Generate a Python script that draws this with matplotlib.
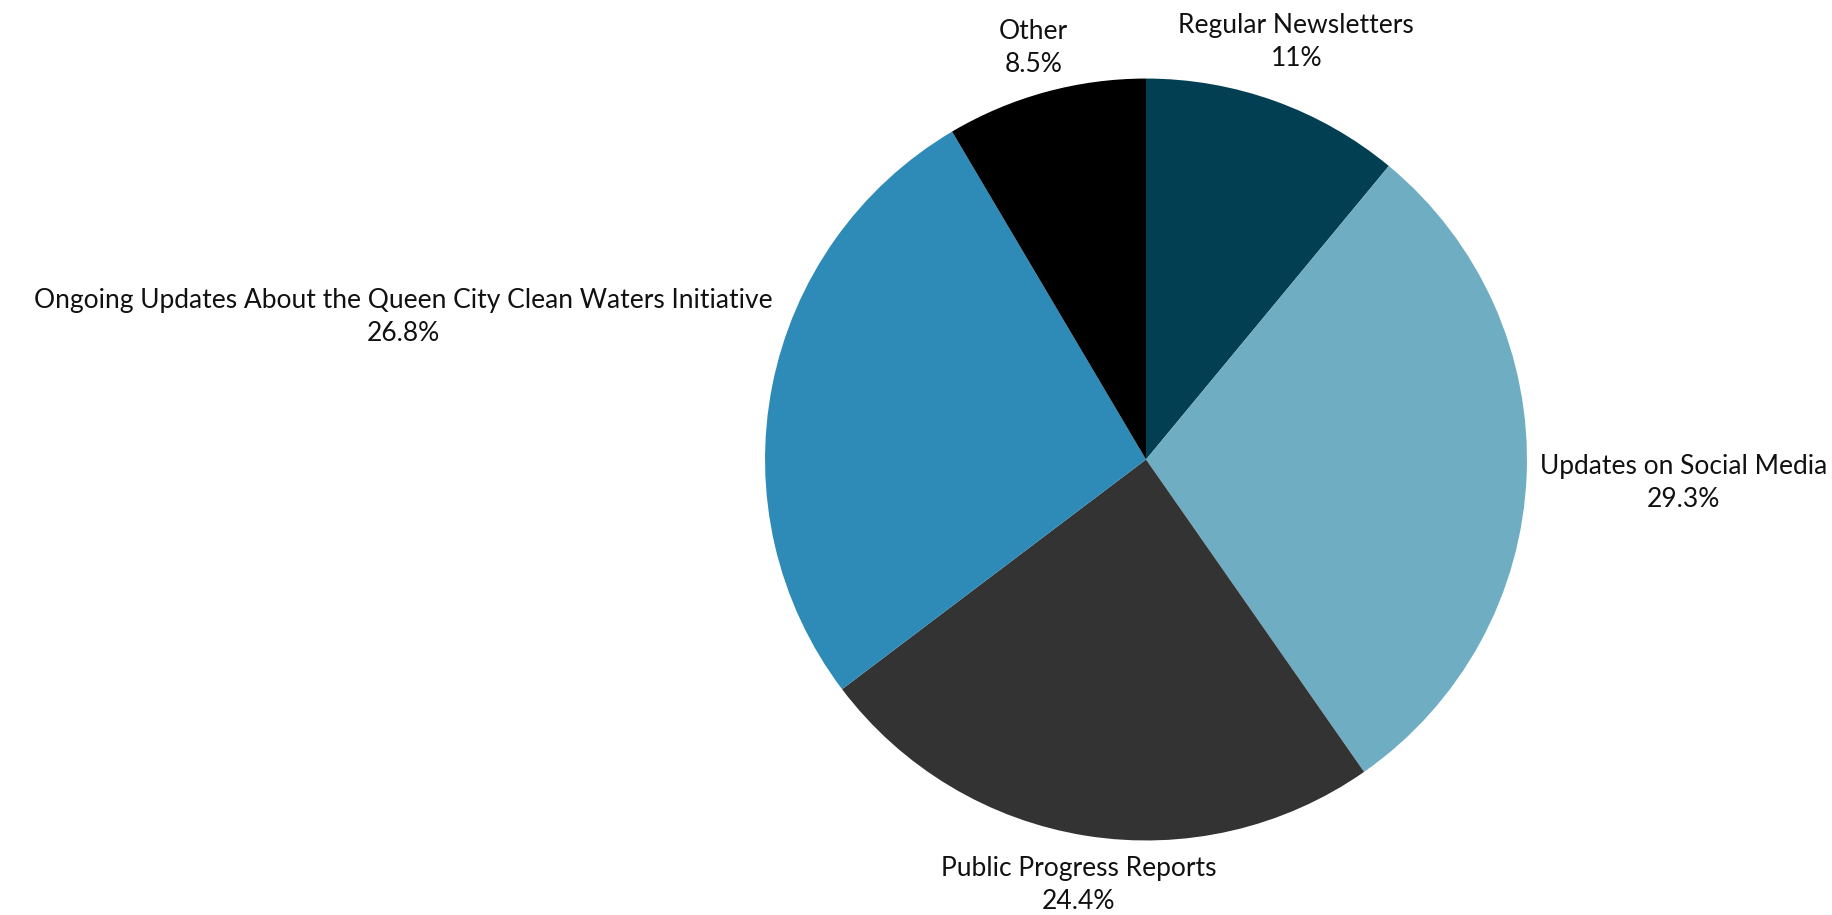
import numpy as np
import matplotlib
matplotlib.use("Agg")
import matplotlib.pyplot as plt

plt.rcParams['font.family'] = ['Lato', 'DejaVu Sans']

# slices, clockwise from 12 o'clock
labels = ["Regular Newsletters", "Updates on Social Media", "Public Progress Reports",
          "Ongoing Updates About the Queen City Clean Waters Initiative", "Other"]
shares = [11.0, 29.3, 24.4, 26.8, 8.5]
pct_text = ["11%", "29.3%", "24.4%", "26.8%", "8.5%"]
colors = ["#033f52", "#6fadc2", "#333333", "#2e8bb8", "#000000"]

# label placement: distance from centre (radius units), alignment, extra offset
lab_dist = [1.165, 1.035, 1.13, 1.0, 1.12]
lab_ha = ["center", "left", "center", "right", "center"]
lab_dy = [0.0, -0.02, 0.0, 0.18, 0.0]

fig = plt.figure(figsize=(18.32, 9.15), dpi=100)
ax = fig.add_axes([0.4176, 0.0814, 0.4159, 0.8328])

wedges, _ = ax.pie(shares, colors=colors, startangle=90, counterclock=False,
                   radius=1.0, wedgeprops=dict(linewidth=0))

for i, w in enumerate(wedges):
    ang = np.deg2rad((w.theta1 + w.theta2) / 2)
    x = lab_dist[i] * np.cos(ang)
    y = lab_dist[i] * np.sin(ang) + lab_dy[i]
    ax.text(x, y, labels[i] + "\n" + pct_text[i], ha=lab_ha[i], va="center",
            multialignment="center", fontsize=19, color="#111111",
            linespacing=1.4, clip_on=False)

ax.set_xlim(-1, 1)
ax.set_ylim(-1, 1)
ax.set_aspect("equal")
ax.axis("off")

fig.savefig("out.png", dpi=100)
